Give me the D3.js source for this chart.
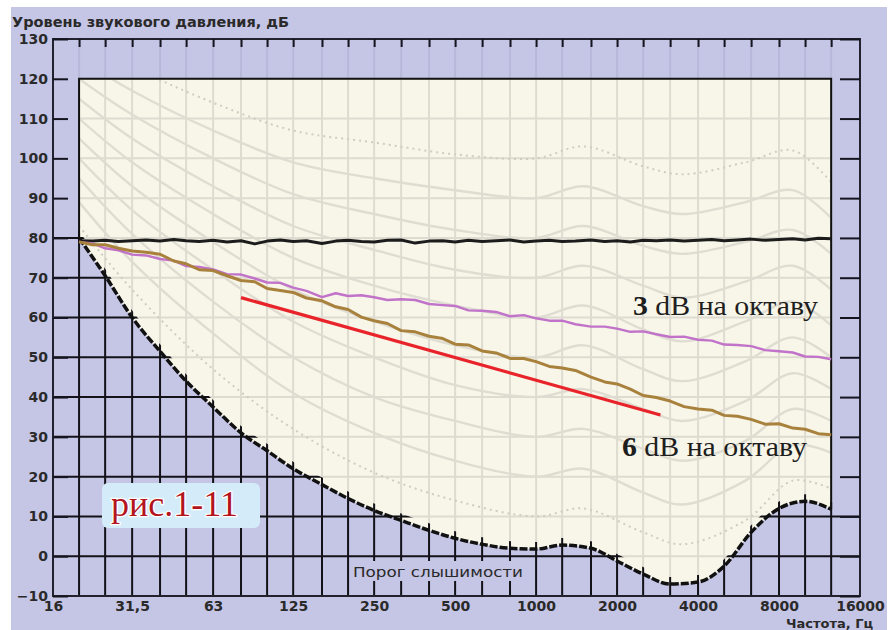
<!DOCTYPE html>
<html>
<head>
<meta charset="utf-8">
<script src="https://cdnjs.cloudflare.com/ajax/libs/d3/7.8.5/d3.min.js"></script>
<style>
  html, body { margin: 0; padding: 0; background: #fff; }
  svg { display: block; }
</style>
</head>
<body>
<div id="chart"></div>
<script>
// threshold of hearing, third-octave centres
const thirdOct = [20, 25, 31.5, 40, 50, 63, 80, 100, 125, 160, 200, 250, 315, 400, 500, 630, 800, 1000, 1250, 1600, 2000, 2500, 3150, 4000, 5000, 6300, 8000, 10000, 12500];
const threshold = [80, 70.5, 60, 51.5, 44, 37.5, 31, 26.5, 22, 18, 14.5, 11.5, 9, 6.5, 4.5, 3, 2, 1.8, 2.8, 2, -1.2, -4.5, -7, -6.5, -2.5, 6, 12, 13.8, 11.8];

// measured noise spectra, sixth-octave points
const sixthOct = [20, 22.4, 25, 28, 31.5, 35.5, 40, 45, 50, 56, 63, 71, 80, 90, 100, 112, 125, 140, 160, 180, 200, 224, 250, 280, 315, 355, 400, 450, 500, 560, 630, 710, 800, 900, 1000, 1120, 1250, 1400, 1600, 1800, 2000, 2240, 2500, 2800, 3150, 3550, 4000, 4500, 5000, 5600, 6300, 7100, 8000, 9000, 10000, 11200, 12500];
const whiteNoise = [79.3, 79.2, 79.4, 79.1, 79.3, 79.5, 79.2, 79.6, 79.3, 79.1, 79.4, 79.0, 79.3, 78.5, 79.2, 79.5, 79.1, 79.3, 78.6, 79.2, 79.4, 79.1, 79.0, 79.4, 79.5, 78.7, 79.2, 79.3, 79.0, 79.4, 79.1, 79.3, 79.5, 79.0, 79.2, 79.4, 79.1, 79.2, 79.5, 79.1, 79.3, 79.0, 79.4, 79.3, 79.5, 79.2, 79.4, 79.6, 79.3, 79.5, 79.7, 79.4, 79.6, 79.8, 79.5, 79.9, 79.8];
const pinkNoise = [79.0, 78.6, 77.4, 76.9, 75.8, 75.6, 74.7, 74.3, 72.9, 72.7, 72.1, 70.9, 70.8, 69.8, 68.8, 68.7, 67.5, 66.7, 65.1, 66.1, 65.4, 65.6, 65.1, 64.4, 64.6, 64.4, 63.4, 63.1, 62.9, 61.8, 61.7, 61.4, 60.3, 60.6, 59.8, 59.2, 59.2, 58.3, 57.7, 57.7, 57.2, 56.4, 56.5, 55.8, 55.1, 55.2, 54.4, 54.2, 53.2, 53.1, 52.8, 51.8, 51.5, 51.2, 50.2, 50.1, 49.5];
const brownNoise = [79.0, 78.3, 78.3, 77.4, 76.7, 76.4, 75.9, 74.2, 73.5, 72.0, 71.8, 70.5, 69.3, 69.0, 67.3, 66.8, 66.3, 64.9, 64.2, 62.7, 62.0, 60.1, 59.2, 58.5, 56.7, 56.4, 55.3, 54.7, 53.3, 53.1, 51.6, 51.1, 49.7, 49.7, 48.9, 47.7, 47.3, 46.7, 45.0, 43.8, 43.3, 42.0, 40.4, 39.9, 39.0, 37.6, 37.0, 36.7, 35.4, 35.2, 34.4, 33.2, 33.3, 32.2, 31.9, 30.8, 30.5];

// red reference slope
const slopeFreq = [80, 2900];
const slopeLevel = [65, 35.5];

// faint equal-loudness contours in the background
const contourFreq = [20, 31.5, 63, 125, 250, 500, 1000, 1500, 2500, 3500, 6000, 9000, 12500];
const phons = [10, 20, 30, 40, 50, 60, 70, 80, 90, 100];
const dottedPhons = [10, 100];
const contourLevels = [
  [83, 67, 47, 32, 21, 14, 10, 12, 6, 3, 9, 19, 17],
  [89, 74, 56, 41, 31, 24, 20, 22, 16, 13, 19, 28, 26],
  [95, 81, 64, 50, 40, 34, 30, 32, 27, 24, 29, 37, 34],
  [100, 87, 72, 59, 50, 43, 40, 42, 37, 34, 39, 46, 42],
  [105, 93, 79, 67, 59, 53, 50, 53, 47, 44, 49, 55, 50],
  [110, 99, 86, 75, 68, 63, 60, 63, 57, 54, 59, 64, 58],
  [115, 105, 93, 83, 77, 72, 70, 73, 68, 65, 69, 73, 67],
  [120, 111, 100, 91, 86, 82, 80, 83, 78, 76, 79, 82, 76],
  [125, 117, 107, 99, 95, 92, 90, 93, 88, 86, 89, 92, 85],
  [130, 123, 114, 107, 104, 101, 100, 103, 98, 96, 99, 102, 94]
];

// axes
const freqTicks = [16, 31.5, 63, 125, 250, 500, 1000, 2000, 4000, 8000, 16000];
const freqTickLabels = ["16", "31,5", "63", "125", "250", "500", "1000", "2000", "4000", "8000", "16000"];
const levelTicks = [-10, 0, 10, 20, 30, 40, 50, 60, 70, 80, 90, 100, 110, 120, 130];

const W = 888, H = 630;
const lavender = "#c5c5e5";
const cream = "#f8f6e9";
const sans = "'DejaVu Sans', sans-serif";
const serif = "'Liberation Serif', 'Times New Roman', serif";

const svg = d3.select("#chart").append("svg")
  .attr("width", W)
  .attr("height", H);

const x = d3.scaleLog().base(2).domain([16, 16000]).range([53, 860]);
const y = d3.scaleLinear().domain([-10, 130]).range([596, 39]);

const gridFreq = [16].concat(thirdOct, [16000]);
const thrPts = thirdOct.map((f, i) => [f, threshold[i]]);
const thrEnd = threshold[threshold.length - 1];

const thrLine = d3.line()
  .x(d => x(d[0]))
  .y(d => y(d[1]))
  .curve(d3.curveMonotoneX);
const thrLineUp = d3.line()
  .x(d => x(d[0]))
  .y(d => y(d[1]) - 7)
  .curve(d3.curveMonotoneX);

// page + lavender panel
svg.append("rect").attr("x", 11).attr("y", 7).attr("width", 876).attr("height", H - 7).attr("fill", lavender);

// clip regions
const defs = svg.append("defs");
const creamPath = thrLine(thrPts) + "L" + x(12500) + "," + y(120) + "L" + x(20) + "," + y(120) + "Z";
defs.append("clipPath").attr("id", "creamClip").append("path").attr("d", creamPath);

const underPath = "M" + x(16) + "," + (y(80) - 7) + "L" + thrLineUp(thrPts).slice(1) +
  "L" + x(16000) + "," + (y(thrEnd) - 7) + "L" + x(16000) + "," + y(-10) + "L" + x(16) + "," + y(-10) + "Z";
defs.append("clipPath").attr("id", "underClip").append("path").attr("d", underPath);

// cream area above the threshold
svg.append("path").attr("d", creamPath).attr("fill", cream);

// light grid inside the cream area
const light = svg.append("g").attr("clip-path", "url(#creamClip)")
  .attr("stroke", "#dedbd1").attr("stroke-width", 2);
light.selectAll(".h").data(levelTicks).enter().append("line")
  .attr("x1", x(16)).attr("x2", x(16000))
  .attr("y1", d => y(d)).attr("y2", d => y(d));
light.selectAll(".v").data(gridFreq).enter().append("line")
  .attr("x1", d => x(d)).attr("x2", d => x(d))
  .attr("y1", y(130)).attr("y2", y(-10));

// faint vertical lines in the top strip
svg.append("g").selectAll("line").data(thirdOct).enter().append("line")
  .attr("x1", d => x(d)).attr("x2", d => x(d))
  .attr("y1", y(130)).attr("y2", y(120))
  .attr("stroke", "#b8b8da").attr("stroke-width", 2);

// equal-loudness contours
const contourLine = d3.line()
  .x(d => x(d[0]))
  .y(d => y(d[1]))
  .curve(d3.curveCatmullRom.alpha(0.5));
svg.append("g").attr("clip-path", "url(#creamClip)")
  .selectAll("path").data(contourLevels).enter().append("path")
  .attr("d", d => contourLine(contourFreq.map((f, i) => [f, d[i]])))
  .attr("fill", "none")
  .attr("stroke", (d, i) => dottedPhons.includes(phons[i]) ? "#cfccc1" : "#dfdcd2")
  .attr("stroke-width", (d, i) => dottedPhons.includes(phons[i]) ? 2 : 2.4)
  .attr("stroke-dasharray", (d, i) => dottedPhons.includes(phons[i]) ? "2,4" : null);

// dark grid under the threshold
const dark = svg.append("g").attr("clip-path", "url(#underClip)")
  .attr("stroke", "#121218").attr("stroke-width", 2);
dark.selectAll(".h").data(levelTicks).enter().append("line")
  .attr("x1", x(16)).attr("x2", x(16000))
  .attr("y1", d => y(d)).attr("y2", d => y(d));
dark.selectAll(".v").data(gridFreq).enter().append("line")
  .attr("x1", d => x(d)).attr("x2", d => x(d))
  .attr("y1", y(130)).attr("y2", y(-10));

// border of the cream area
svg.append("path")
  .attr("d", "M" + x(20) + "," + y(80) + "L" + x(20) + "," + y(120) + "L" + x(12500) + "," + y(120) + "L" + x(12500) + "," + y(thrEnd))
  .attr("fill", "none").attr("stroke", "#111").attr("stroke-width", 2);

// outer frame
svg.append("rect")
  .attr("x", x(16)).attr("y", y(130))
  .attr("width", x(16000) - x(16)).attr("height", y(-10) - y(130))
  .attr("fill", "none").attr("stroke", "#22222e").attr("stroke-width", 2);

// axes
const axTop = svg.append("g").attr("transform", "translate(0," + y(130) + ")")
  .call(d3.axisTop(x).tickValues(thirdOct).tickSizeInner(-8).tickSizeOuter(0).tickFormat(""));
const axRight = svg.append("g").attr("transform", "translate(" + x(16000) + ",0)")
  .call(d3.axisRight(y).tickValues(levelTicks).tickSizeInner(-20).tickSizeOuter(0).tickFormat(""));
const axLeft = svg.append("g").attr("transform", "translate(" + x(16) + ",0)")
  .call(d3.axisLeft(y).tickValues(levelTicks).tickSizeInner(-15).tickSizeOuter(0).tickPadding(5));
const axBottom = svg.append("g").attr("transform", "translate(0," + y(-10) + ")")
  .call(d3.axisBottom(x).tickValues(freqTicks).tickSizeInner(0).tickSizeOuter(0).tickPadding(5)
    .tickFormat((d, i) => freqTickLabels[i]));

[axTop, axRight, axLeft, axBottom].forEach(g => {
  g.select(".domain").remove();
  g.selectAll(".tick line").attr("stroke", "#15151f").attr("stroke-width", 2);
  g.selectAll(".tick text")
    .attr("fill", "#2a2a2a")
    .style("font-family", sans)
    .style("font-size", "14px")
    .style("font-weight", "bold");
});

// label behind the threshold caption
svg.append("rect").attr("x", 350).attr("y", 561).attr("width", 178).attr("height", 20).attr("fill", lavender);
svg.append("text")
  .attr("x", 353).attr("y", 577)
  .attr("textLength", 170).attr("lengthAdjust", "spacingAndGlyphs")
  .style("font-family", sans).style("font-size", "14px")
  .attr("fill", "#2a2a2a")
  .text("Порог слышимости");

// threshold curve
svg.append("path")
  .attr("d", thrLine(thrPts))
  .attr("fill", "none").attr("stroke", "#111")
  .attr("stroke-width", 3.5).attr("stroke-dasharray", "8,2");

// noise traces
const trace = d3.line().x(d => x(d[0])).y(d => y(d[1]));
const traces = [
  { values: whiteNoise, color: "#1c1c1c", width: 3 },
  { values: pinkNoise, color: "#c173c9", width: 2.4 },
  { values: brownNoise, color: "#a8813d", width: 3 }
];
svg.append("g").selectAll("path").data(traces).enter().append("path")
  .attr("d", t => trace(sixthOct.map((f, i) => [f, t.values[i]])))
  .attr("fill", "none")
  .attr("stroke", t => t.color)
  .attr("stroke-width", t => t.width)
  .attr("stroke-linejoin", "round");

// red slope line
svg.append("path")
  .attr("d", trace(slopeFreq.map((f, i) => [f, slopeLevel[i]])))
  .attr("stroke", "#e8242a").attr("stroke-width", 3.2).attr("fill", "none");

// annotations
function note(num, x0, y0) {
  const t = svg.append("text")
    .attr("x", x0).attr("y", y0)
    .attr("textLength", 185).attr("lengthAdjust", "spacingAndGlyphs")
    .style("font-family", serif).style("font-size", "27px")
    .attr("fill", "#1e1e1e");
  t.append("tspan").style("font-weight", "bold").text(num);
  t.append("tspan").text(" dB на октаву");
}
note("3", 633, 315);
note("6", 622, 456);

// titles
svg.append("text")
  .attr("x", 12).attr("y", 27)
  .attr("textLength", 277).attr("lengthAdjust", "spacingAndGlyphs")
  .style("font-family", sans).style("font-size", "14px").style("font-weight", "bold")
  .attr("fill", "#2a2a2a")
  .text("Уровень звукового давления, дБ");
svg.append("text")
  .attr("x", 786).attr("y", 628)
  .style("font-family", sans).style("font-size", "13px").style("font-weight", "bold")
  .attr("fill", "#2a2a2a")
  .text("Частота, Гц");

// figure tag
svg.append("rect")
  .attr("x", 102).attr("y", 483).attr("width", 158).attr("height", 45).attr("rx", 6)
  .attr("fill", "#d4ebf9");
svg.append("text")
  .attr("x", 111).attr("y", 516)
  .style("font-family", serif).style("font-size", "36px")
  .attr("fill", "#b3141d")
  .attr("stroke", "#fff").attr("stroke-width", 2.5)
  .attr("paint-order", "stroke")
  .text("рис.1-11");
</script>
</body>
</html>
